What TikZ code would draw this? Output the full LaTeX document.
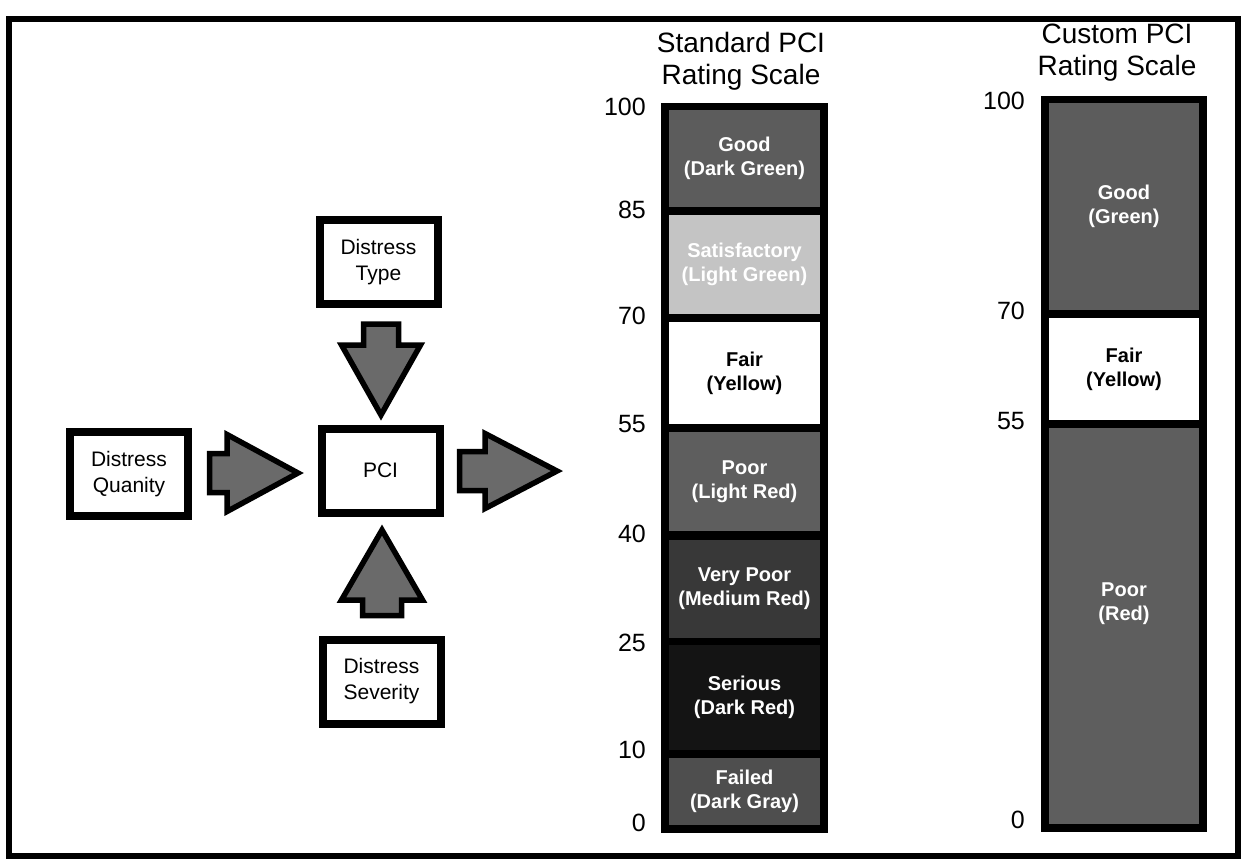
\documentclass[tikz,border=0pt]{standalone}
\usepackage{fontspec}
\setmainfont{Liberation Sans}
\usetikzlibrary{calc}
\definecolor{arrowgray}{HTML}{6A6A6A}
\definecolor{goodgray}{HTML}{5C5C5C}
\definecolor{satgray}{HTML}{C4C4C4}
\definecolor{poorgray}{HTML}{5E5E5E}
\definecolor{vpoorgray}{HTML}{383838}
\definecolor{seriousgray}{HTML}{141414}
\definecolor{failedgray}{HTML}{4E4E4E}
\newcommand\myblockarrow[5]{%
  \coordinate (ba-h) at ($(#2)!#5!(#1)$);
  \draw[barr] ($(#1)!#3!90:(#2)$) -- ($(ba-h)!#3!90:(#2)$) -- ($(ba-h)!#4!90:(#2)$) -- (#2)
    -- ($(ba-h)!#4!-90:(#2)$) -- ($(ba-h)!#3!-90:(#2)$) -- ($(#1)!#3!-90:(#2)$) -- cycle;}
\begin{document}
\begin{tikzpicture}[x=1pt,y=-1pt,
  box/.style={draw, line width=8pt, fill=white, minimum width=118pt, minimum height=84pt,
    inner sep=0pt, align=center, font=\fontsize{21}{26}\selectfont},
  seg/.style={inner sep=0pt, align=center, text=white,
    font=\bfseries\fontsize{20}{24}\selectfont},
  num/.style={anchor=east, inner sep=0pt, font=\fontsize{25}{25}\selectfont},
  ttl/.style={align=center, inner sep=0pt, font=\fontsize{28}{32}\selectfont},
  barr/.style={fill=arrowgray, draw=black, line width=5.5pt, line join=miter}]
\useasboundingbox (0,0) rectangle (1246,863);
\fill[white] (0,0) rectangle (1246,863);
\draw[line width=6pt] (9,19) rectangle (1238,856);

% flow boxes
\node[box] (type) at (378.5,262) {Distress\\Type};
\node[box] (pci) at (380.5,470.5) {PCI};
\node[box] (quant) at (129,474) {Distress\\Quanity};
\node[box] (sev) at (381.5,681.5) {Distress\\Severity};

% block arrows
\coordinate (a1s) at ($(type.south)+(2.5,16)$);
\coordinate (a1e) at ($(pci.north)+(0.5,-9.5)$);
\coordinate (a2s) at ($(sev.north)+(0.5,-20)$);
\coordinate (a2e) at ($(pci.south)+(1.5,13.5)$);
\coordinate (a3s) at ($(quant.east)+(17.5,-1)$);
\coordinate (a3e) at ($(pci.west)+(-19.5,2.5)$);
\coordinate (a4s) at ($(pci.east)+(16,0.5)$);
\coordinate (a4e) at ($(pci.east)+(113.5,0.5)$);
\myblockarrow{a1s}{a1e}{17.5pt}{39.5pt}{70pt}
\myblockarrow{a2s}{a2e}{19.5pt}{40.5pt}{70pt}
\myblockarrow{a3s}{a3e}{19.5pt}{38.5pt}{71pt}
\myblockarrow{a4s}{a4e}{19.5pt}{37.5pt}{72pt}

% standard scale
\node[ttl] (stitle) at (741,61) {Standard PCI\\Rating Scale};
\fill[black] (661,103) rectangle (828,833);
\node[seg, fill=goodgray, minimum width=151pt, minimum height=97pt] (sgood) at (744.5,158.5) {Good\\(Dark Green)};
\node[seg, fill=satgray, minimum width=151pt, minimum height=99pt] (ssat) at (744.5,264.5) {Satisfactory\\(Light Green)};
\node[seg, fill=white, text=black, minimum width=151pt, minimum height=102pt] (sfair) at (744.5,373) {Fair\\(Yellow)};
\node[seg, fill=poorgray, minimum width=151pt, minimum height=99pt] (spoor) at (744.5,481.5) {Poor\\(Light Red)};
\node[seg, fill=vpoorgray, minimum width=151pt, minimum height=98pt] (svpoor) at (744.5,589) {Very Poor\\(Medium Red)};
\node[seg, fill=seriousgray, minimum width=151pt, minimum height=105pt] (sser) at (744.5,697.5) {Serious\\(Dark Red)};
\node[seg, fill=failedgray, minimum width=151pt, minimum height=67pt] (sfail) at (744.5,791.5) {Failed\\(Dark Gray)};
\node[num] (s100) at (646,107) {100};
\node[num] (s85) at (646,210) {85};
\node[num] (s70) at (646,316) {70};
\node[num] (s55) at (646,424) {55};
\node[num] (s40) at (646,534) {40};
\node[num] (s25) at (646,643) {25};
\node[num] (s10) at (646,750) {10};
\node[num] (s0) at (646,823) {0};

% custom scale
\node[ttl] (ctitle) at (1117,53) {Custom PCI\\Rating Scale};
\fill[black] (1041,96) rectangle (1207,832);
\node[seg, fill=goodgray, minimum width=150pt, minimum height=207pt] (cgood) at (1124,206.5) {Good\\(Green)};
\node[seg, fill=white, text=black, minimum width=150pt, minimum height=102pt] (cfair) at (1124,369) {Fair\\(Yellow)};
\node[seg, fill=poorgray, minimum width=150pt, minimum height=396pt] (cpoor) at (1124,626) {};
\node[seg] (cpoorlbl) at (1124,604) {Poor\\(Red)};
\node[num] (c100) at (1025,101) {100};
\node[num] (c70) at (1025,311) {70};
\node[num] (c55) at (1025,421) {55};
\node[num] (c0) at (1025,820) {0};
\end{tikzpicture}
\end{document}
